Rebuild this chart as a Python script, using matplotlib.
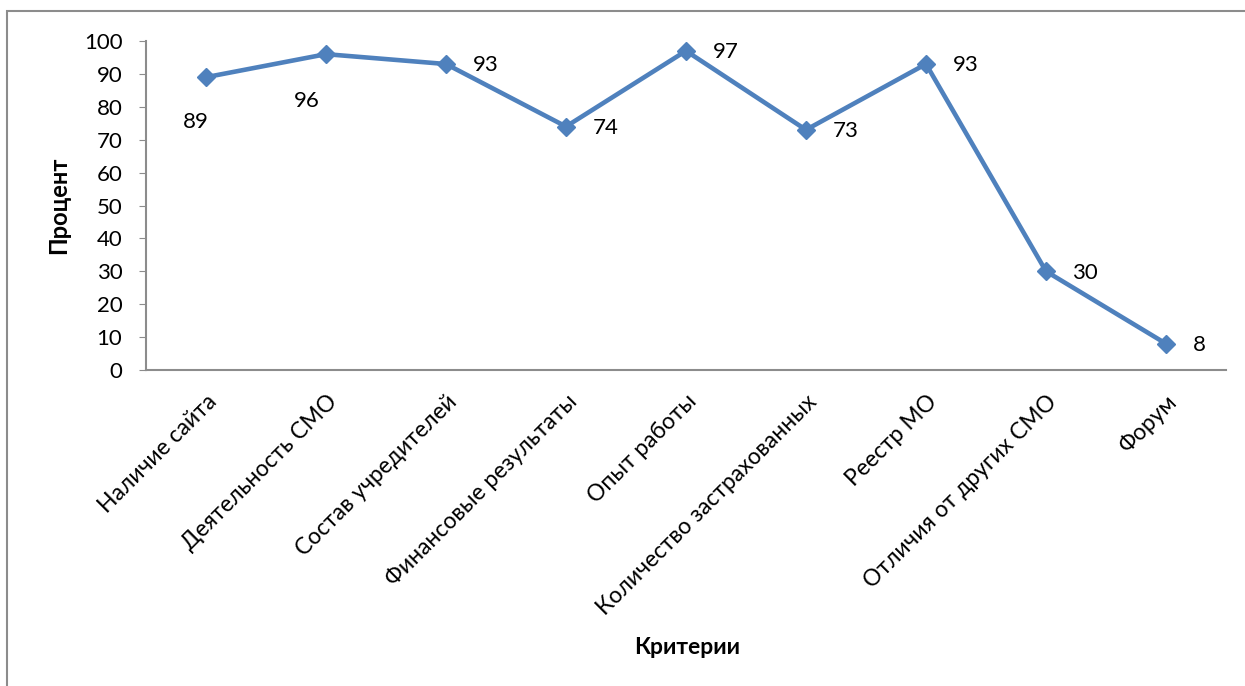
import matplotlib.pyplot as plt
from matplotlib.patches import Rectangle

criteria = ['Наличие сайта', 'Деятельность СМО', 'Состав учредителей',
            'Финансовые результаты', 'Опыт работы', 'Количество застрахованных',
            'Реестр МО', 'Отличия от других СМО', 'Форум']
percent = [89, 96, 93, 74, 97, 73, 93, 30, 8]
yticks = [0, 10, 20, 30, 40, 50, 60, 70, 80, 90, 100]

# label offsets in points (first two sit below-left, rest to the right)
offsets = [(-7, -32), (-14, -34)] + [(19, -1)] * 7

fig = plt.figure(figsize=(12.45, 6.86), dpi=100)
fig.patches.append(Rectangle((7 / 1245, -0.1), 1.2, 1 - 11 / 686 + 0.1,
                             transform=fig.transFigure, fill=False,
                             edgecolor='#8c8c8c', lw=1.5))

ax = fig.add_axes([146 / 1245, 1 - 370 / 686, 1080 / 1245, 329 / 686])
x = list(range(len(criteria)))
ax.plot(x, percent, color='#4F81BD', lw=3.3, marker='D', ms=9.5,
        markerfacecolor='#4F81BD', markeredgecolor='#4F81BD')

for xi, v, (dx, dy) in zip(x, percent, offsets):
    ax.annotate(str(v), (xi, v), xytext=(dx, dy), textcoords='offset points',
                ha='left' if dx > 0 else 'center', va='center',
                fontsize=16, family='Lato')

ax.set_xlim(-0.5, len(criteria) - 0.5)
ax.set_ylim(0, 100)
ax.set_yticks(yticks)
ax.set_yticklabels([str(t) for t in yticks], fontsize=16, family='Lato')
ax.set_xticks(x)
ax.set_xticklabels(criteria, rotation=45, ha='right', rotation_mode='anchor',
                   fontsize=16.5, family='Lato')
ax.tick_params(axis='x', length=0, pad=15)
ax.tick_params(axis='y', length=5, color='#8c8c8c', pad=12)
for s in ['top', 'right']:
    ax.spines[s].set_visible(False)
for s in ['left', 'bottom']:
    ax.spines[s].set_color('#8c8c8c')
    ax.spines[s].set_linewidth(1.5)

ax.set_ylabel('Процент', fontsize=17, fontweight='bold', family='Lato', labelpad=10)
fig.text(687 / 1245, 1 - 647 / 686, 'Критерии', fontsize=16.5, fontweight='bold',
         family='Lato', ha='center', va='center')

fig.savefig('out.png', dpi=100)
